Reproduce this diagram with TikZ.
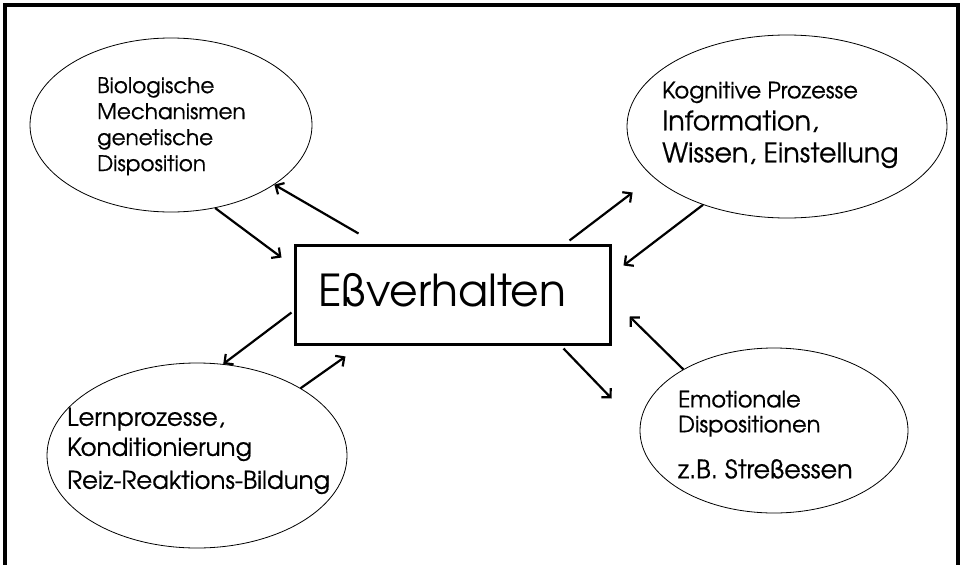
\documentclass[tikz,border=0pt]{standalone}
\usepackage{fontspec}
\setmainfont{TeX Gyre Adventor}
\newfontfamily\blobfont[FakeBold=0.6]{TeX Gyre Adventor}
\usetikzlibrary{shapes.geometric,arrows.meta}

\tikzset{
  blob/.style={draw, ellipse, line width=0.8pt, inner sep=0pt},
  blobtext/.style={align=left, anchor=north west, inner sep=0pt},
  link/.style={line width=2.2pt, -{Straight Barb[length=6.5pt,width=13pt]}},
}

\begin{document}
\begin{tikzpicture}[x=1pt,y=-1pt]
  \useasboundingbox (0,0) rectangle (964,565);

  % frame, open at the bottom:
  \draw[line width=3.5pt] (5,565) -- (5,5) -- (958,5) -- (958,565);

  % the box in the middle:
  \node[draw, line width=3pt, minimum width=315pt, minimum height=99pt, inner sep=0pt] (ess) at (452.5,294.5) {};
  \node[font=\fontsize{44}{50}\selectfont, anchor=base west, inner sep=0pt] (esstext) at (318,306) {Eßverhalten};

  % the four ellipses:
  \node[blob, minimum width=282pt, minimum height=174pt] (bio) at (171,125) {};
  \node[blob, minimum width=320pt, minimum height=183pt] (kog) at (787,126.5) {};
  \node[blob, minimum width=300pt, minimum height=185pt] (lern) at (197,455.5) {};
  \node[blob, minimum width=268pt, minimum height=165pt] (emo) at (774,430.5) {};

  % letterings:
  \node[blobtext, font=\blobfont\fontsize{21.5}{26}\selectfont] (biotext) at (97,77)
    {Biologische\\Mechanismen\\genetische\\Disposition};
  \node[blobtext, font=\blobfont\fontsize{27}{32}\selectfont] (kogtext) at (662,81.5)
    {{\fontsize{22.5}{26}\selectfont Kognitive Prozesse}\\Information,\\Wissen, Einstellung};
  \node[blobtext, font=\blobfont\fontsize{24.5}{30}\selectfont] (lerntext) at (67,407.5)
    {Lernprozesse,\\Konditionierung\\[3pt]Reiz-Reaktions-Bildung};
  \node[blobtext, font=\blobfont\fontsize{22.5}{25}\selectfont] (emotext) at (678,390.5)
    {Emotionale\\Dispositionen\\[21pt]{\fontsize{25.5}{26}\selectfont z.B. Streßessen}};

  % arrows in and out:
  \draw[link] (bio.-62) -- ([xshift=-12pt,yshift=-14pt]ess.north west);
  \draw[link] ([xshift=65pt,yshift=10pt]ess.north west) -- (bio.-30);
  \draw[link] ([xshift=-42pt,yshift=3pt]ess.north east) -- ([xshift=6pt,yshift=-66pt]kog.west);
  \draw[link] (kog.223) -- ([xshift=12pt,yshift=-22pt]ess.north east);
  \draw[link] ([xshift=-2pt,yshift=-18pt]ess.west) -- (lern.74);
  \draw[link] (lern.33) -- ([xshift=52pt,yshift=-11pt]ess.south west);
  \draw[link] ([xshift=-48pt,yshift=-3pt]ess.south east) -- ([xshift=-28pt,yshift=32pt]emo.west);
  \draw[link] (emo.146) -- ([xshift=18pt,yshift=29pt]ess.south east);
\end{tikzpicture}
\end{document}
